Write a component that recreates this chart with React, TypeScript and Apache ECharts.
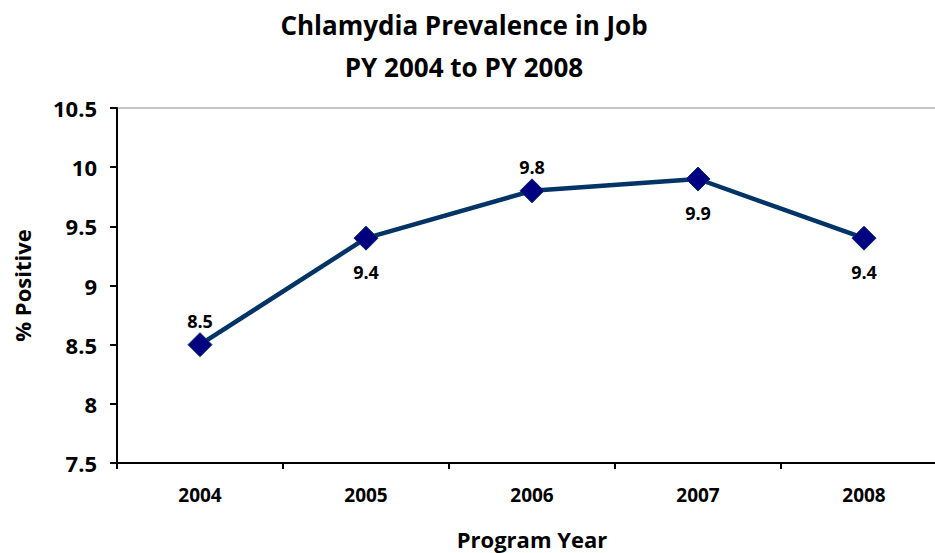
import React, { useEffect, useRef } from "react";
import * as echarts from "echarts";

const categories = ["2004", "2005", "2006", "2007", "2008"];
const values = [8.5, 9.4, 9.8, 9.9, 9.4];
const labelPositions = ["top", "bottom", "top", "bottom", "bottom"];
const titleLines = ["Chlamydia Prevalence in Job", "PY 2004 to PY 2008"];

const FONT = "'Open Sans', Lato, sans-serif";

export default function App() {
  const ref = useRef<HTMLDivElement>(null);
  useEffect(() => {
    if (!ref.current) return;
    const chart = echarts.init(ref.current, undefined, { renderer: "svg" });
    chart.setOption({
      animation: false,
      backgroundColor: "#ffffff",
      title: {
        text: titleLines.join("\n"),
        left: 464,
        textAlign: "center",
        top: 4,
        padding: 0,
        textStyle: { fontFamily: FONT, fontWeight: "bold", fontSize: 26, lineHeight: 42, color: "#000" },
      },
      grid: {
        left: 117,
        right: 0,
        top: 108,
        bottom: 90,
        show: true,
        borderColor: "#8c8c8c",
        borderWidth: 1,
        containLabel: false,
        outerBoundsMode: "none",
      },
      xAxis: {
        type: "category",
        data: categories,
        boundaryGap: true,
        name: "Program Year",
        nameLocation: "middle",
        nameGap: 65,
        nameTextStyle: { fontFamily: FONT, fontWeight: "bold", fontSize: 22, color: "#000" },
        axisLine: { lineStyle: { color: "#000", width: 2 } },
        axisTick: { show: true, alignWithLabel: false, length: 6, lineStyle: { color: "#000", width: 2 } },
        axisLabel: { fontFamily: FONT, fontWeight: "bold", fontSize: 19, color: "#000", margin: 22 },
        splitLine: { show: false },
      },
      yAxis: {
        type: "value",
        min: 7.5,
        max: 10.5,
        interval: 0.5,
        name: "% Positive",
        nameLocation: "middle",
        nameGap: 84,
        nameRotate: 90,
        nameTextStyle: { fontFamily: FONT, fontWeight: "bold", fontSize: 22, color: "#000" },
        axisLine: { show: true, lineStyle: { color: "#000", width: 2 } },
        axisTick: { show: true, length: 7, lineStyle: { color: "#000", width: 2 } },
        axisLabel: { fontFamily: FONT, fontWeight: "bold", fontSize: 22, color: "#000", margin: 20 },
        splitLine: { show: false },
      },
      series: [
        {
          type: "line",
          data: values.map((v, i) => ({
            value: v,
            label: { position: labelPositions[i], distance: labelPositions[i] === "top" ? 2 : 12 },
          })),
          symbol: "diamond",
          symbolSize: 24,
          lineStyle: { color: "#003366", width: 4.5 },
          itemStyle: { color: "#000080", borderColor: "#003366", borderWidth: 1 },
          label: {
            show: true,
            fontFamily: FONT,
            fontWeight: "bold",
            fontSize: 18,
            color: "#000",
            formatter: (p: any) => p.value.toFixed(1),
          },
        },
      ],
    });
    return () => chart.dispose();
  }, []);
  return (
    <div
      style={{ position: "absolute", left: 0, top: 0, width: 935, height: 553, overflow: "hidden" }}
    >
      <div ref={ref} style={{ width: 947, height: 553 }} />
    </div>
  );
}
